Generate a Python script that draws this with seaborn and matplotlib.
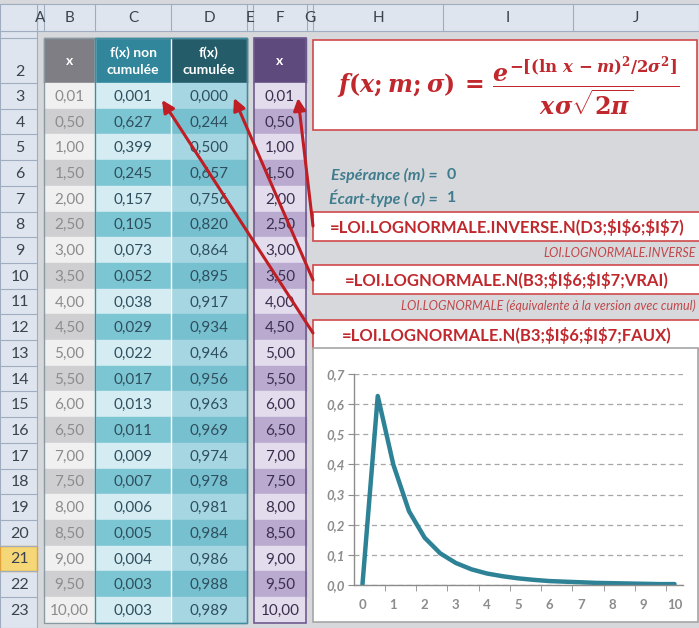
import numpy as np
import pandas as pd
import seaborn as sns
import matplotlib.pyplot as plt
from matplotlib.patches import Rectangle
from matplotlib.ticker import FuncFormatter, MultipleLocator

# ================= données =================
x_values = [0.01, 0.50, 1.00, 1.50, 2.00, 2.50, 3.00, 3.50, 4.00, 4.50, 5.00,
            5.50, 6.00, 6.50, 7.00, 7.50, 8.00, 8.50, 9.00, 9.50, 10.00]
pdf_values = [0.001, 0.627, 0.399, 0.245, 0.157, 0.105, 0.073, 0.052, 0.038, 0.029, 0.022,
              0.017, 0.013, 0.011, 0.009, 0.007, 0.006, 0.005, 0.004, 0.003, 0.003]
cdf_values = [0.000, 0.244, 0.500, 0.657, 0.756, 0.820, 0.864, 0.895, 0.917, 0.934, 0.946,
              0.956, 0.963, 0.969, 0.974, 0.978, 0.981, 0.984, 0.986, 0.988, 0.989]
col_letters = ['A', 'B', 'C', 'D', 'E', 'F', 'G', 'H', 'I', 'J']
col_edges = [37, 44, 95, 171, 247, 253, 307, 313, 443, 573, 699]
header_titles = ['x', 'f(x) non\ncumulée', 'f(x)\ncumulée']
esperance = 0
ecart_type = 1
formulas = ['=LOI.LOGNORMALE.INVERSE.N(D3;$I$6;$I$7)',
            '=LOI.LOGNORMALE.N(B3;$I$6;$I$7;VRAI)',
            '=LOI.LOGNORMALE.N(B3;$I$6;$I$7;FAUX)']
notes = ['LOI.LOGNORMALE.INVERSE',
         'LOI.LOGNORMALE (équivalente à la version avec cumul)']

df = pd.DataFrame({'x': x_values, 'pdf': pdf_values, 'cdf': cdf_values})

def fr(v, n):
    return f"{v:.{n}f}".replace('.', ',')

# ================= style =================
plt.rcParams['font.family'] = ['Lato', 'DejaVu Sans']
plt.rcParams['mathtext.fontset'] = 'custom'
plt.rcParams['mathtext.rm'] = 'DejaVu Serif:bold'
plt.rcParams['mathtext.it'] = 'DejaVu Serif:italic:bold'
plt.rcParams['mathtext.bf'] = 'DejaVu Serif:italic:bold'

W, H = 699, 628
fig = plt.figure(figsize=(W / 100, H / 100), dpi=100)
bg = fig.add_axes([0, 0, 1, 1])
bg.set_xlim(0, W)
bg.set_ylim(H, 0)
bg.axis('off')

sheet_grey = '#D7D8DB'
head_col = '#DEE5EE'
red = '#C0282D'
bg.add_patch(Rectangle((0, 0), W, H, color=sheet_grey, zorder=0))

# en-têtes de colonnes
bg.add_patch(Rectangle((0, 4), W, 27, facecolor=head_col, edgecolor='#9EADC0', lw=0.8, zorder=1))
for i, letter in enumerate(col_letters):
    x0, x1 = col_edges[i], col_edges[i + 1]
    bg.plot([x0, x0], [4, 31], color='#9EADC0', lw=0.8, zorder=2)
    bg.text((x0 + x1) / 2, 18, letter, ha='center', va='center', fontsize=11,
            color='#3B4350', clip_on=True, zorder=3)
bg.add_patch(Rectangle((0, 4), 37, 27, facecolor=head_col, edgecolor='#9EADC0', lw=0.8, zorder=2))

# lignes
row_top = 83
row_h = 25.7
def ytop(r):
    return row_top + (r - 3) * row_h

bg.add_patch(Rectangle((0, 31), 37, H - 31, facecolor=head_col, edgecolor='#9EADC0', lw=0.8, zorder=1))
bg.plot([0, 37], [38, 38], color='#9EADC0', lw=0.8, zorder=2)
bg.text(20, 72, '2', ha='center', va='center', fontsize=11.5, color='#3B4350', zorder=3)
for r in range(3, 24):
    y0 = ytop(r)
    if r == 21:
        bg.add_patch(Rectangle((0, y0), 37, row_h, facecolor='#F5D778', edgecolor='#E2A23B', lw=1, zorder=2))
    bg.plot([0, 37], [y0, y0], color='#9EADC0', lw=0.8, zorder=2)
    bg.text(20, y0 + row_h / 2 + 1, str(r), ha='center', va='center', fontsize=11.5,
            color='#3B4350', zorder=3)

# tableau B-D
head_colors = ['#7E7E84', '#31869B', '#245C6A']
light = ['#F0F0F1', '#D4ECF2', '#A6D6E2']
dark = ['#CFCFD2', '#7CC5D3', '#77C0CF']
txt_colors = ['#8C8C8C', '#2F4F5E', '#2F4F5E']
columns = [[fr(v, 2) for v in x_values], [fr(v, 3) for v in pdf_values], [fr(v, 3) for v in cdf_values]]
for j in range(3):
    x0, x1 = col_edges[j + 1], col_edges[j + 2]
    bg.add_patch(Rectangle((x0, 38), x1 - x0, row_top - 38, color=head_colors[j], zorder=2))
    bg.text((x0 + x1) / 2, 61, header_titles[j], ha='center', va='center', color='white',
            fontsize=10, fontweight='bold', linespacing=1.5, zorder=3)
    for k, s in enumerate(columns[j]):
        y0 = ytop(3 + k)
        bg.add_patch(Rectangle((x0, y0), x1 - x0, row_h, color=light[j] if k % 2 == 0 else dark[j], zorder=2))
        bg.text((x0 + x1) / 2, y0 + row_h / 2 + 1, s, ha='center', va='center', fontsize=11,
                color=txt_colors[j], zorder=3)
bg.plot([95, 95], [38, ytop(24)], color='white', lw=1, zorder=3)
bg.plot([171, 171], [38, ytop(24)], color='white', lw=1, zorder=3)
bg.add_patch(Rectangle((44, 38), 247 - 44, ytop(24) - 38, fill=False, edgecolor='#8A9AA3', lw=1, zorder=4))
bg.add_patch(Rectangle((95, 38), 247 - 95, ytop(24) - 38, fill=False, edgecolor='#3D8EA0', lw=1, zorder=4))

# colonne F
x0, x1 = 254, 306
bg.add_patch(Rectangle((x0, 38), x1 - x0, row_top - 38, color='#5F4A7E', zorder=2))
bg.text((x0 + x1) / 2, 61, 'x', ha='center', va='center', color='white', fontsize=10,
        fontweight='bold', zorder=3)
for k, v in enumerate(x_values):
    y0 = ytop(3 + k)
    bg.add_patch(Rectangle((x0, y0), x1 - x0, row_h, color='#E2DCEC' if k % 2 == 0 else '#BAAACF', zorder=2))
    bg.text((x0 + x1) / 2, y0 + row_h / 2 + 1, fr(v, 2), ha='center', va='center', fontsize=11,
            color='#3A2F4E', zorder=3)
bg.add_patch(Rectangle((x0, 38), x1 - x0, ytop(24) - 38, fill=False, edgecolor='#6E5A8E', lw=1.2, zorder=4))

# formule
bg.add_patch(Rectangle((313, 40), 384, 90, facecolor='white', edgecolor='#D0494B', lw=1.2, zorder=2))
bg.text(508, 86, r'$f(x{;}m{;}\sigma)\,=\,\dfrac{e^{-[(\ln\,x\,-m)^2/2\sigma^2]}}{x\sigma\sqrt{2\pi}}$',
        ha='center', va='center', fontsize=17, color=red, zorder=3)

# paramètres
param_col = '#3E7C8E'
bg.text(438, 175, 'Espérance (m) =', ha='right', va='center', fontsize=11.5, fontweight='bold',
        style='italic', color=param_col, zorder=3)
bg.text(447, 175, str(esperance), ha='left', va='center', fontsize=11.5, fontweight='bold',
        color=param_col, zorder=3)
bg.text(438, 198, 'Écart-type ( σ) =', ha='right', va='center', fontsize=11.5, fontweight='bold',
        style='italic', color=param_col, zorder=3)
bg.text(447, 198, str(ecart_type), ha='left', va='center', fontsize=11.5, fontweight='bold',
        color=param_col, zorder=3)

# formules Excel
box_tops = [212, 265, 320]
box_h = 29
for yb, f in zip(box_tops, formulas):
    bg.add_patch(Rectangle((313, yb), 390, box_h, facecolor='white', edgecolor='#D0494B', lw=1.2, zorder=2))
    bg.text(507, yb + box_h / 2 + 1, f, ha='center', va='center', fontsize=12, fontweight='bold',
            color=red, parse_math=False, zorder=3)
bg.text(696, 253, notes[0], ha='right', va='center', fontsize=9, style='italic', color='#C2474A', zorder=3)
bg.text(696, 306, notes[1], ha='right', va='center', fontsize=9, style='italic', color='#C2474A', zorder=3)

# flèches
arrow_kw = dict(arrowstyle='-|>', color='#BE1E24', lw=2.2, mutation_scale=18, shrinkA=0, shrinkB=0)
for start, end in [((313, 226), (298, 98)), ((313, 280), (234, 98)), ((313, 333), (162, 100))]:
    bg.annotate('', xy=end, xytext=start, arrowprops=arrow_kw, zorder=6)

# zone graphique
bg.add_patch(Rectangle((313, 348), 385, 274, facecolor='white', edgecolor='#A6A6A6', lw=1.2, zorder=2))

ax = fig.add_axes([354 / W, 1 - 585 / H, (683 - 354) / W, (585 - 374) / H])
ax.set_facecolor('none')
sns.lineplot(data=df, x='x', y='pdf', ax=ax, color='#2E8296', lw=3.2, solid_capstyle='round')
ax.set_xlim(-0.26, 10.27)
ax.set_ylim(0, 0.7)
ax.yaxis.set_major_locator(MultipleLocator(0.1))
ax.xaxis.set_major_locator(MultipleLocator(1))
ax.yaxis.set_major_formatter(FuncFormatter(lambda v, p: fr(v, 1)))
ax.xaxis.set_major_formatter(FuncFormatter(lambda v, p: f"{v:.0f}"))
ax.grid(axis='y', color='#A6A6A6', ls=(0, (4, 3)), lw=0.9)
ax.set_axisbelow(True)
for side in ['top', 'right']:
    ax.spines[side].set_visible(False)
for side in ['left', 'bottom']:
    ax.spines[side].set_color('#8C8C8C')
    ax.spines[side].set_linewidth(1)
ax.tick_params(axis='y', length=4, color='#8C8C8C', labelsize=9.5, labelcolor='#8C8C8C', pad=3)
ax.tick_params(axis='x', length=0, labelsize=9.5, labelcolor='#8C8C8C', pad=10)
ax.set_xticks([i + 0.73 for i in range(10)], minor=True)
ax.tick_params(axis='x', which='minor', length=4, color='#8C8C8C')
for lab in ax.get_yticklabels():
    lab.set_fontstyle('italic')
    lab.set_fontweight('bold')
for lab in ax.get_xticklabels():
    lab.set_fontweight('bold')
ax.set_xlabel('')
ax.set_ylabel('')

fig.savefig('out.png', dpi=100)
